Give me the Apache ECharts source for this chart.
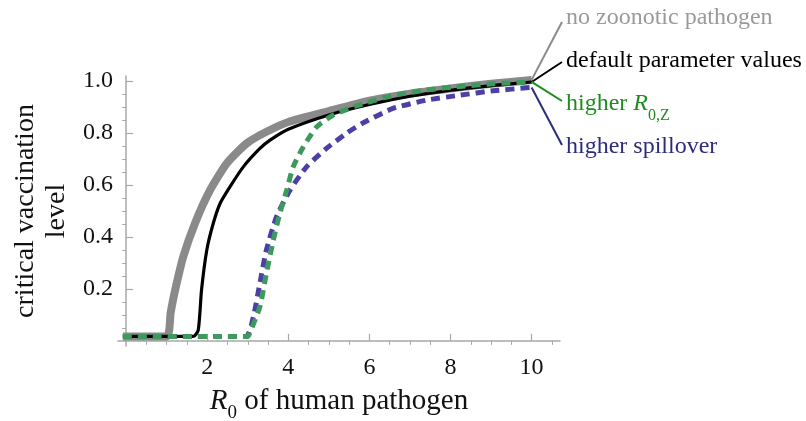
<!DOCTYPE html>
<html>
<head>
<meta charset="utf-8">
<script src="https://cdn.jsdelivr.net/npm/echarts@6/dist/echarts.min.js"></script>
<style>
html,body{margin:0;padding:0;background:#fff;}
#c{width:806px;height:421px;}
</style>
</head>
<body>
<div id="c"></div>
<script>
// ---- data ----
const xMajorTicks = [2, 4, 6, 8, 10];
const xMinorTicks = [0.5,1,1.5,2.5,3,3.5,4.5,5,5.5,6.5,7,7.5,8.5,9,9.5,10.5];
const yMajorTicks = [0.2, 0.4, 0.6, 0.8, 1.0];
const yMinorTicks = [0.05,0.1,0.15,0.25,0.3,0.35,0.45,0.5,0.55,0.65,0.7,0.75,0.85,0.9,0.95];

const noZoonotic = [[-0.08,0.017],[1.0,0.017],[1.1,0.11],[1.21,0.196],[1.41,0.324],[1.7,0.453],[2.07,0.58],[2.48,0.683],[2.97,0.76],[3.46,0.805],[4,0.843],[5,0.885],[6,0.925],[7,0.952],[8,0.972],[9,0.99],[10,1.005]];
const defaultParams = [[-0.08,0.017],[1.66,0.017],[1.78,0.042],[1.86,0.196],[1.99,0.35],[2.15,0.453],[2.32,0.53],[2.56,0.593],[2.89,0.67],[3.3,0.741],[3.55,0.773],[4,0.815],[5,0.87],[6,0.91],[7,0.942],[8,0.965],[9,0.983],[10,0.997]];
const higherR0Z = [[-0.08,0.017],[3.0,0.017],[3.05,0.03],[3.3,0.132],[3.46,0.26],[3.63,0.388],[3.79,0.49],[3.96,0.58],[4.12,0.67],[4.37,0.747],[4.7,0.824],[5.1,0.869],[5.68,0.905],[6.58,0.945],[7.41,0.966],[8.23,0.98],[9.05,0.99],[10,0.997]];
const higherSpillover = [[-0.08,0.017],[2.95,0.017],[3.14,0.094],[3.3,0.222],[3.46,0.35],[3.71,0.478],[4.04,0.58],[4.45,0.67],[4.94,0.741],[5.44,0.8],[5.85,0.84],[6.58,0.895],[7.41,0.927],[8.23,0.946],[9.05,0.963],[10,0.976]];

const labelNames = ['no zoonotic pathogen', 'default parameter values', 'higher R0,Z', 'higher spillover'];

// ---- styling ----
const FONT = '"Liberation Serif", "Times New Roman", serif';
const AXIS_GRAY = '#a8a8a8';
const C_GRAY = '#8a8a8a', C_BLACK = '#000000', C_GREEN = '#3d9a5c', C_BLUE = '#4b40a6';
const T_GRAY = '#9a9a9a', T_GREEN = '#1e8c1e', T_BLUE = '#2c2c7c';

const chart = echarts.init(document.getElementById('c'), null, {renderer: 'canvas'});

const xmin = -0.2, xmax = 10.7, ymin = -0.02, ymax = 1.02;
const SM = 0.2;

const option = {
  backgroundColor: '#ffffff',
  animation: false,
  grid: {left: 118, right: 246, top: 76, bottom: 75, containLabel: false, outerBoundsMode: 'none'},
  xAxis: [
    {
      type: 'value', min: xmin, max: xmax,
      axisLine: {onZero: true, onZeroAxisIndex: 0, lineStyle: {color: AXIS_GRAY, width: 1.5}},
      axisTick: {inside: true, length: 7, customValues: xMajorTicks, lineStyle: {color: AXIS_GRAY, width: 1.2}},
      axisLabel: {customValues: xMajorTicks, fontFamily: FONT, fontSize: 24, color: '#111', margin: 10},
      splitLine: {show: false},
      name: '{i|R}{s|0}{n| of human pathogen}',
      nameLocation: 'middle', nameGap: 41,
      nameTextStyle: {
        fontFamily: FONT, fontSize: 29, color: '#111',
        rich: {
          i: {fontFamily: FONT, fontSize: 29, fontStyle: 'italic', color: '#111', lineHeight: 32, verticalAlign: 'top'},
          s: {fontFamily: FONT, fontSize: 19, color: '#111', lineHeight: 20, verticalAlign: 'top', padding: [17, 0, 0, 0]},
          n: {fontFamily: FONT, fontSize: 29, color: '#111', lineHeight: 32, verticalAlign: 'top'}
        }
      }
    },
    {
      type: 'value', min: xmin, max: xmax,
      axisLine: {onZero: true, onZeroAxisIndex: 0, show: false},
      axisTick: {inside: true, length: 4, customValues: xMinorTicks, lineStyle: {color: AXIS_GRAY, width: 1}},
      axisLabel: {show: false},
      splitLine: {show: false}
    }
  ],
  yAxis: [
    {
      type: 'value', min: ymin, max: ymax,
      axisLine: {show: true, onZero: true, onZeroAxisIndex: 0, lineStyle: {color: AXIS_GRAY, width: 1.5}},
      axisTick: {show: true, inside: true, length: 7, customValues: yMajorTicks, lineStyle: {color: AXIS_GRAY, width: 1.2}},
      axisLabel: {customValues: yMajorTicks, fontFamily: FONT, fontSize: 24, color: '#111', margin: 5,
        formatter: v => v.toFixed(1)},
      splitLine: {show: false},
      name: 'critical vaccination\nlevel',
      nameLocation: 'middle', nameRotate: 90, nameGap: 45,
      nameTextStyle: {fontFamily: FONT, fontSize: 28, color: '#111', lineHeight: 31, align: 'center'}
    },
    {
      type: 'value', min: ymin, max: ymax,
      axisLine: {show: false, onZero: true, onZeroAxisIndex: 0},
      axisTick: {show: true, inside: true, length: 4, customValues: yMinorTicks, lineStyle: {color: AXIS_GRAY, width: 1}},
      axisLabel: {show: false},
      splitLine: {show: false}
    }
  ],
  series: [
    {name: labelNames[0], type: 'line', data: noZoonotic, showSymbol: false, smooth: SM,
      lineStyle: {color: C_GRAY, width: 8}, z: 2},
    {name: labelNames[3], type: 'line', data: higherSpillover, showSymbol: false, smooth: SM,
      lineStyle: {color: C_BLUE, width: 5, type: [9, 6]}, z: 3},
    {name: labelNames[1], type: 'line', data: defaultParams, showSymbol: false, smooth: SM,
      lineStyle: {color: C_BLACK, width: 3.2}, z: 4},
    {name: labelNames[2], type: 'line', data: higherR0Z, showSymbol: false, smooth: SM,
      lineStyle: {color: C_GREEN, width: 5, type: [9, 6]}, z: 5}
  ]
};
chart.setOption(option);

// leader lines and labels at the right ends of the curves
function endPx(arr) {
  return chart.convertToPixel({xAxisIndex: 0, yAxisIndex: 0}, arr[arr.length - 1]);
}
const pG = endPx(noZoonotic), pK = endPx(defaultParams), pR = endPx(higherR0Z), pB = endPx(higherSpillover);
const lx = 562, tx = 566;
const labels = [
  {from: pG, to: [lx, 22], ty: 20, color: C_GRAY, tcolor: T_GRAY, text: '{n|no zoonotic pathogen}'},
  {from: pK, to: [lx, 62], ty: 63, color: '#000', tcolor: '#000', text: '{n|default parameter values}'},
  {from: pR, to: [lx, 101], ty: 106, color: T_GREEN, tcolor: T_GREEN, text: '{n|higher }{i|R}{s|0,Z}'},
  {from: pB, to: [lx, 145], ty: 149, color: T_BLUE, tcolor: T_BLUE, text: '{n|higher spillover}'}
];
const graphic = [];
labels.forEach(l => {
  graphic.push({type: 'line', shape: {x1: l.from[0], y1: l.from[1], x2: l.to[0], y2: l.to[1]},
    style: {stroke: l.color, lineWidth: 2}, z: 10});
  graphic.push({type: 'text', x: tx, y: l.ty, z: 10,
    style: {text: l.text, fill: l.tcolor, fontFamily: FONT, fontSize: 24, verticalAlign: 'middle',
      rich: {
        n: {fill: l.tcolor, fontFamily: FONT, fontSize: 24, lineHeight: 28, verticalAlign: 'top'},
        i: {fill: l.tcolor, fontFamily: FONT, fontSize: 24, fontStyle: 'italic', lineHeight: 28, verticalAlign: 'top'},
        s: {fill: l.tcolor, fontFamily: FONT, fontSize: 16, lineHeight: 16, verticalAlign: 'top', padding: [16, 0, 0, 0]}
      }}});
});
chart.setOption({graphic: graphic});
</script>
</body>
</html>
